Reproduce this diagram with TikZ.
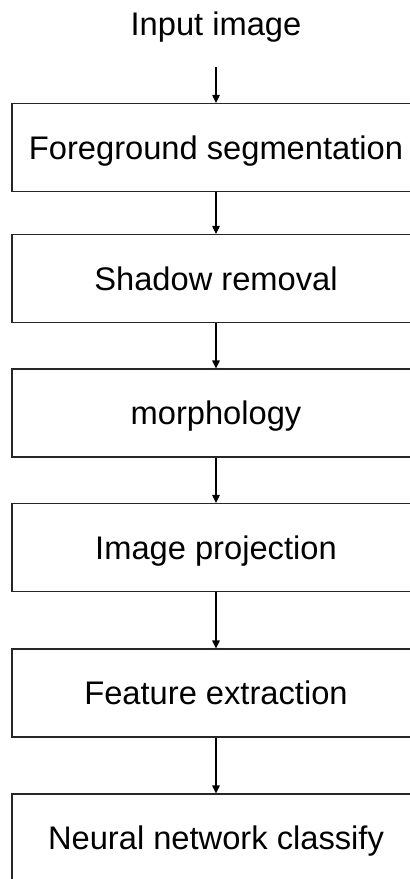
\documentclass[tikz,border=0pt]{standalone}
\usepackage{fontspec}
\setmainfont{Liberation Sans}
\usetikzlibrary{arrows.meta}
\begin{document}
\begin{tikzpicture}[x=0.75pt,y=-0.75pt,
  stage/.style={draw=black!85, line width=0.8pt, rectangle, minimum width=306pt,
    minimum height=66pt, inner sep=0pt, text height=17.5pt, text depth=0pt,
    font=\fontsize{24.5}{28}\selectfont},
  label/.style={inner sep=0pt, text height=17.5pt, text depth=0pt,
    font=\fontsize{24.5}{28}\selectfont},
  flow/.style={draw=black, line width=0.8pt, -{Triangle[length=6pt,width=5.6pt]}}]
  \useasboundingbox (0,0) rectangle (410,879);
  \clip (0,0) rectangle (410,879);
  \fill[white] (0,0) rectangle (410,879);
  % title text and pipeline stages
  \node[label] (in) at (216,24) {Input image};
  \coordinate (s0) at (216,67);
  \node[stage] (b1) at (216,147.5) {Foreground segmentation};
  \node[stage] (b2) at (216,278.5) {Shadow removal};
  \node[stage] (b3) at (216,413) {morphology};
  \node[stage] (b4) at (216,547.5) {Image projection};
  \node[stage] (b5) at (216,693) {Feature extraction};
  \node[stage] (b6) at (216,838) {Neural network classify};
  % arrows between stages
  \draw[flow] (s0) -- (b1.north);
  \draw[flow] (b1.south) -- (b2.north);
  \draw[flow] (b2.south) -- (b3.north);
  \draw[flow] (b3.south) -- (b4.north);
  \draw[flow] (b4.south) -- (b5.north);
  \draw[flow] (b5.south) -- (b6.north);
\end{tikzpicture}
\end{document}
